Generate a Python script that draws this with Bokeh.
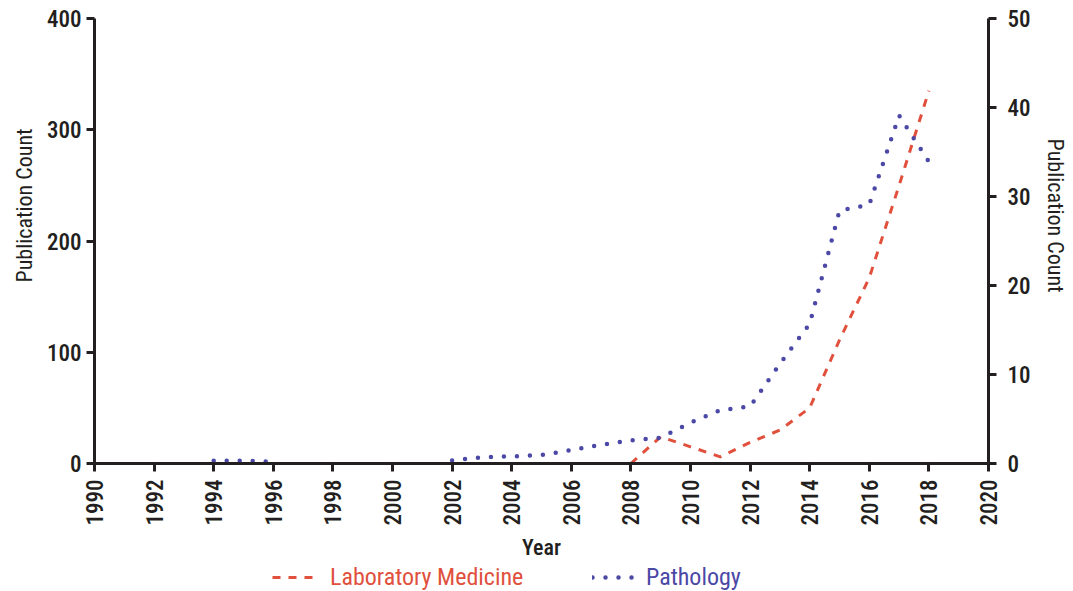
import math
import numpy as np
from bokeh.plotting import figure
from bokeh.layouts import column
from bokeh.models import Range1d, LinearAxis, Legend, LegendItem, Title, FixedTicker
from bokeh.embed import file_html
from bokeh.resources import INLINE

# ---- data ----
years = list(range(1990, 2019))
lab_medicine = [None] * 18 + [0, 24, 15, 6, 19, 30, 50, 111, 167, 250, 335]
pathology = ([None] * 4 + [0.3, 0.3, 0.2] + [None] * 5 +
             [0.35, 0.7, 0.8, 0.95, 1.5, 2.1, 2.6, 2.9, 4.6, 6.0, 6.4,
              11.2, 15.7, 28.4, 29.1, 39.1, 33.9])
x_ticks = list(range(1990, 2021, 2))
left_ticks = [0, 100, 200, 300, 400]
right_ticks = [0, 10, 20, 30, 40, 50]
series_names = ["Laboratory Medicine", "Pathology"]

RED = "#e0503c"
BLUE = "#4b48a6"
INK = "#231f20"
FONT = "Roboto Condensed"
FONT_MED = "'Roboto Condensed Medium', 'Roboto Condensed'"

lab = np.array([np.nan if v is None else v for v in lab_medicine], dtype=float)
pat = np.array([np.nan if v is None else v for v in pathology], dtype=float)

p = figure(width=1073, height=563, output_backend="svg", toolbar_location=None,
           x_range=Range1d(1990, 2020), y_range=Range1d(0, 400),
           min_border_left=94, min_border_right=85, min_border_top=18,
           min_border_bottom=100)
p.extra_y_ranges = {"right": Range1d(0, 50)}
p.outline_line_color = None
p.xgrid.visible = False
p.ygrid.visible = False

LAB_STYLE = dict(line_color=RED, line_width=3, line_dash="8 8")
PAT_STYLE = dict(line_color=BLUE, line_width=4.5, line_dash="0 13", line_cap="round")

p.line(years, lab, **LAB_STYLE)
p.line(years, pat, y_range_name="right", **PAT_STYLE)

def style_axis(ax, ticks):
    ax.ticker = FixedTicker(ticks=ticks)
    ax.axis_line_width = 3
    ax.axis_line_color = INK
    ax.major_tick_line_width = 3
    ax.major_tick_line_color = INK
    ax.major_tick_out = 8
    ax.major_tick_in = 0
    ax.minor_tick_line_color = None
    ax.major_label_text_font = FONT_MED
    ax.major_label_text_font_size = "23px"
    ax.major_label_text_color = INK

style_axis(p.xaxis[0], x_ticks)
p.xaxis.major_label_orientation = math.pi / 2
p.xaxis.major_label_standoff = 8
p.xaxis.axis_label = "Year"
p.xaxis.axis_label_text_font = FONT_MED
p.xaxis.axis_label_text_font_size = "22px"
p.xaxis.axis_label_text_font_style = "normal"
p.xaxis.axis_label_text_color = INK
p.xaxis.axis_label_standoff = 6

style_axis(p.yaxis[0], left_ticks)
p.yaxis.major_label_standoff = 5

ry = LinearAxis(y_range_name="right")
style_axis(ry, right_ticks)
ry.major_label_standoff = 11
# small blank spacer label so the side title sits at the outer edge
ry.axis_label = " "
ry.axis_label_text_font_size = "5px"
ry.axis_label_standoff = 0
p.add_layout(ry, "right")

def side_title(offset, standoff):
    t = Title(text="Publication Count", align="left", offset=offset,
              text_font=FONT, text_font_size="22px",
              text_font_style="normal", text_color=INK)
    if "standoff" in Title.properties():
        t.standoff = standoff
    return t

p.add_layout(side_title(181, 14), "left")
p.add_layout(side_title(120, 0), "right")

# legend row
q = figure(width=1073, height=28, output_backend="svg", toolbar_location=None,
           x_range=Range1d(0, 1), y_range=Range1d(0, 1),
           x_axis_location=None, y_axis_location=None, min_border=0)
q.outline_line_color = None
q.grid.visible = False
q_lab = q.line(years, lab, **LAB_STYLE)
q_pat = q.line(years, pat, **PAT_STYLE)

for name, rend, color, vx, so in ((series_names[0], q_lab, RED, 178, 12),
                                  (series_names[1], q_pat, BLUE, 498, 8)):
    lg = Legend(items=[LegendItem(label=name, renderers=[rend])],
                location=(vx, 0), orientation="horizontal",
                border_line_color=None, background_fill_alpha=0,
                padding=0, margin=0, spacing=0,
                glyph_width=46, glyph_height=20, label_standoff=so,
                label_text_font=FONT, label_text_font_size="24px",
                label_text_color=color)
    q.add_layout(lg, "center")

layout = column(p, q, spacing=0)
open("out.html", "w").write(file_html(layout, INLINE))
